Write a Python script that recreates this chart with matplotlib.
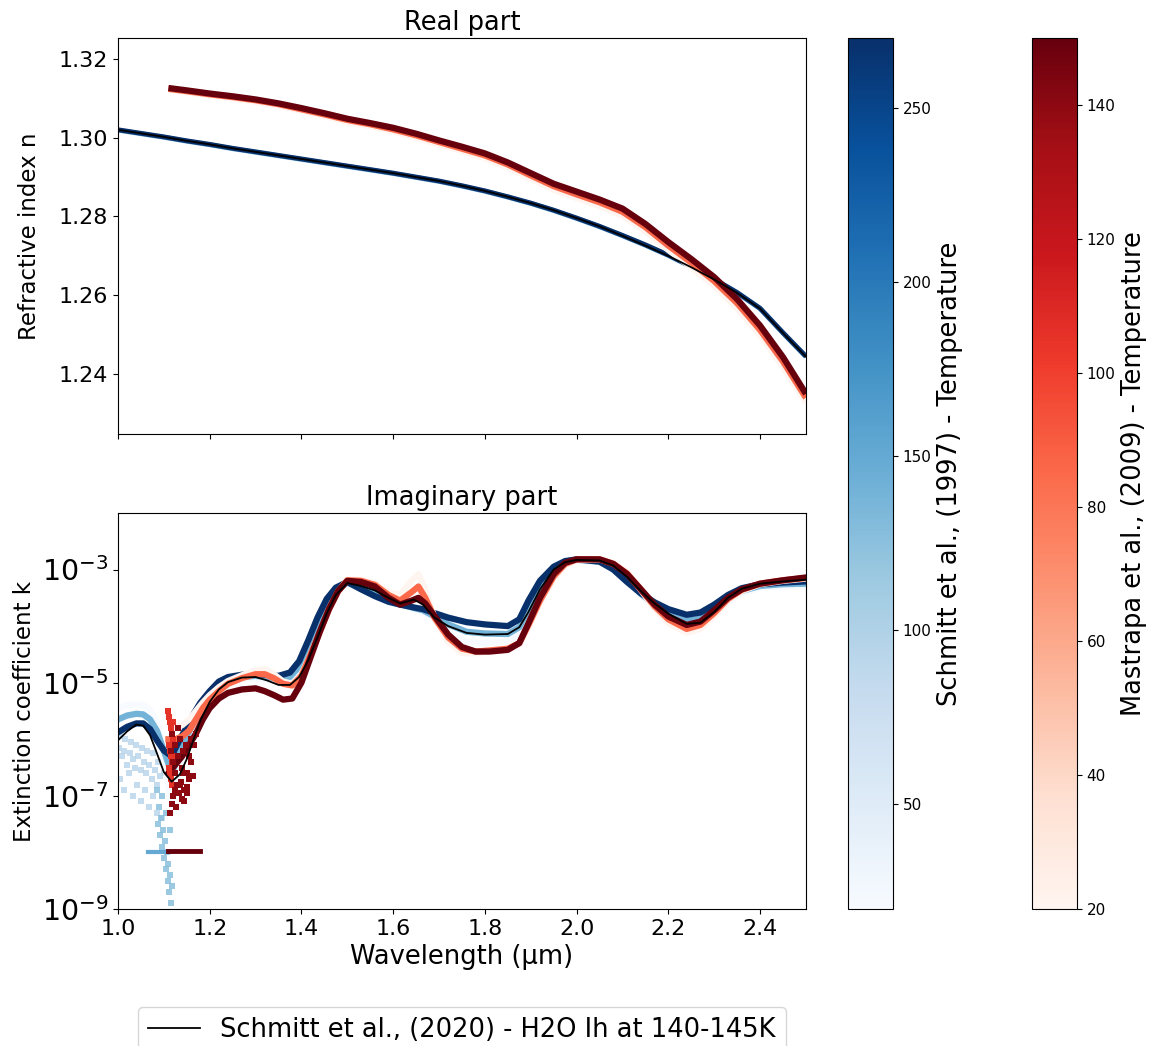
import numpy as np
import matplotlib
matplotlib.use('Agg')
import matplotlib.pyplot as plt
from matplotlib import cm
from matplotlib.colors import Normalize
from matplotlib.ticker import NullLocator

# ---- Schmitt et al. (1997) ----
temps_s97 = [20, 140, 270]  # K

lam_n_s97 = [1.00, 1.05, 1.10, 1.15, 1.20, 1.25, 1.30, 1.35, 1.40, 1.45, 1.50, 1.55, 1.60, 1.65, 1.70, 1.75,
             1.80, 1.85, 1.90, 1.95, 2.00, 2.05, 2.10, 2.15, 2.20, 2.25, 2.30, 2.35, 2.40, 2.45, 2.50]
n_s97_20 = [1.3018, 1.3009, 1.3000, 1.2990, 1.2981, 1.2971, 1.2962, 1.2953, 1.2944, 1.2935, 1.2926, 1.2917, 1.2908, 1.2898,
            1.2888, 1.2876, 1.2863, 1.2848, 1.2832, 1.2814, 1.2794, 1.2773, 1.2750, 1.2726, 1.2700, 1.2671, 1.2639,
            1.2605, 1.2565, 1.2503, 1.2443]
n_s97_140 = [1.3019, 1.3010, 1.3001, 1.2991, 1.2982, 1.2972, 1.2963, 1.2954, 1.2945, 1.2936, 1.2927, 1.2918, 1.2909, 1.2899,
             1.2889, 1.2877, 1.2864, 1.2849, 1.2833, 1.2815, 1.2795, 1.2774, 1.2751, 1.2727, 1.2701, 1.2672, 1.2640,
             1.2606, 1.2566, 1.2504, 1.2444]
n_s97_270 = [1.3020, 1.3011, 1.3002, 1.2992, 1.2983, 1.2973, 1.2964, 1.2955, 1.2946, 1.2937, 1.2928, 1.2919, 1.2910, 1.2900,
             1.2890, 1.2878, 1.2865, 1.2850, 1.2834, 1.2816, 1.2796, 1.2775, 1.2752, 1.2728, 1.2702, 1.2673, 1.2641,
             1.2607, 1.2567, 1.2505, 1.2445]

lam_k_s97 = [1.000, 1.020, 1.040, 1.055, 1.070, 1.085, 1.100, 1.117, 1.135, 1.150, 1.165, 1.180, 1.200, 1.220, 1.240,
             1.270, 1.300, 1.325, 1.350, 1.375, 1.395, 1.415, 1.435, 1.455, 1.475, 1.500, 1.530, 1.560, 1.590, 1.615,
             1.645, 1.665, 1.690, 1.720, 1.760, 1.800, 1.850, 1.875, 1.895, 1.920, 1.950, 1.975, 2.000, 2.050, 2.080,
             2.110, 2.140, 2.170, 2.200, 2.240, 2.270, 2.300, 2.330, 2.360, 2.400, 2.450, 2.500]
logk_s97_20 = [-5.45, -5.40, -5.38, -5.40, -5.48, -5.70, -6.30, -7.20, -6.50, -6.15, -5.85, -5.55, -5.30, -5.12, -5.00,
               -4.94, -4.92, -4.95, -4.98, -4.98, -4.82, -4.50, -4.08, -3.70, -3.43, -3.25, -3.32, -3.40, -3.52, -3.60,
               -3.70, -3.75, -3.90, -4.10, -4.28, -4.30, -4.28, -4.15, -3.85, -3.40, -3.02, -2.88, -2.84, -2.87, -2.98,
               -3.18, -3.45, -3.66, -3.85, -4.00, -3.98, -3.82, -3.58, -3.43, -3.32, -3.30, -3.29]
logk_s97_140 = [-5.65, -5.58, -5.55, -5.56, -5.65, -5.85, -6.20, -6.60, -6.25, -5.95, -5.70, -5.45, -5.22, -5.05, -4.96,
                -4.90, -4.88, -4.90, -4.93, -4.90, -4.72, -4.38, -3.97, -3.62, -3.38, -3.23, -3.33, -3.44, -3.55, -3.61,
                -3.68, -3.72, -3.83, -3.97, -4.10, -4.13, -4.14, -4.02, -3.70, -3.30, -2.98, -2.86, -2.83, -2.86, -2.99,
                -3.20, -3.43, -3.62, -3.78, -3.90, -3.87, -3.72, -3.52, -3.38, -3.29, -3.26, -3.25]
logk_s97_270 = [-5.88, -5.78, -5.72, -5.72, -5.82, -6.02, -6.20, -6.30, -6.00, -5.78, -5.55, -5.35, -5.15, -4.98, -4.90,
                -4.86, -4.85, -4.86, -4.88, -4.82, -4.62, -4.25, -3.85, -3.52, -3.32, -3.22, -3.35, -3.47, -3.57, -3.62,
                -3.67, -3.70, -3.77, -3.85, -3.93, -3.97, -4.00, -3.88, -3.55, -3.20, -2.95, -2.85, -2.82, -2.86, -3.00,
                -3.22, -3.42, -3.58, -3.70, -3.80, -3.76, -3.62, -3.45, -3.33, -3.26, -3.23, -3.21]

# scattered low-k points below the 1.0-1.12 um band (light, ~100 K)
lam_pale_s97 = [1.002, 1.008, 1.014, 1.020, 1.026, 1.032, 1.038, 1.044, 1.050, 1.056, 1.062, 1.068, 1.074, 1.080,
                1.086, 1.092, 1.005, 1.014, 1.023, 1.032, 1.041, 1.050, 1.059, 1.068, 1.077, 1.086, 1.095,
                1.004, 1.016, 1.028, 1.040, 1.052, 1.064, 1.076, 1.088, 1.100]
logk_pale_s97 = [-6.15, -6.30, -6.20, -6.45, -6.25, -6.35, -6.50, -6.30, -6.55, -6.40, -6.60, -6.45, -6.70, -6.55,
                 -6.80, -6.65, -6.70, -6.90, -6.60, -7.00, -6.80, -7.10, -6.90, -7.20, -7.00, -7.30, -7.40,
                 -5.95, -6.00, -6.05, -6.10, -6.15, -6.20, -6.25, -6.40, -6.60]
# deep column around 1.09-1.12 um (~120 K)
lam_deep_s97 = [1.088, 1.092, 1.096, 1.100, 1.104, 1.108, 1.112, 1.116, 1.090, 1.094, 1.098, 1.102, 1.106, 1.110,
                1.114, 1.118, 1.085, 1.095, 1.105, 1.113]
logk_deep_s97 = [-7.5, -7.7, -7.9, -8.1, -8.3, -8.5, -8.7, -8.9, -7.2, -7.4, -7.6, -7.8, -8.0, -8.2,
                 -8.4, -8.6, -6.9, -7.0, -7.3, -7.6]
lam_floor_s97 = [1.065, 1.112]
logk_floor_s97 = [-8.0, -8.0]

# ---- Mastrapa et al. (2009) ----
temps_m09 = [20, 85, 150]  # K

lam_n_m09 = [1.11, 1.15, 1.20, 1.25, 1.30, 1.35, 1.40, 1.45, 1.50, 1.55, 1.60, 1.65, 1.70, 1.75, 1.80, 1.85, 1.90,
             1.95, 2.00, 2.05, 2.10, 2.15, 2.20, 2.25, 2.30, 2.35, 2.40, 2.45, 2.50]
n_m09_20 = [1.3121, 1.3115, 1.3107, 1.3100, 1.3091, 1.3081, 1.3068, 1.3055, 1.3040, 1.3029, 1.3016, 1.3000, 1.2983,
            1.2966, 1.2948, 1.2924, 1.2896, 1.2868, 1.2847, 1.2826, 1.2802, 1.2762, 1.2715, 1.2671, 1.2624, 1.2567,
            1.2499, 1.2418, 1.2328]
n_m09_85 = [1.3124, 1.3118, 1.3110, 1.3103, 1.3095, 1.3085, 1.3072, 1.3059, 1.3045, 1.3034, 1.3021, 1.3006, 1.2989,
            1.2972, 1.2955, 1.2932, 1.2904, 1.2877, 1.2856, 1.2836, 1.2812, 1.2773, 1.2726, 1.2683, 1.2636, 1.2580,
            1.2512, 1.2432, 1.2340]
n_m09_150 = [1.3126, 1.3120, 1.3112, 1.3105, 1.3097, 1.3087, 1.3075, 1.3062, 1.3048, 1.3037, 1.3025, 1.3010, 1.2993,
             1.2977, 1.2960, 1.2937, 1.2910, 1.2883, 1.2863, 1.2843, 1.2820, 1.2781, 1.2735, 1.2692, 1.2646, 1.2590,
             1.2523, 1.2443, 1.2350]

lam_k_m09 = [1.110, 1.125, 1.140, 1.155, 1.170, 1.185, 1.200, 1.220, 1.240, 1.270, 1.300, 1.320, 1.340, 1.360, 1.380,
             1.400, 1.420, 1.440, 1.460, 1.480, 1.500, 1.530, 1.560, 1.590, 1.615, 1.640, 1.655, 1.670, 1.690, 1.720,
             1.750, 1.780, 1.810, 1.850, 1.875, 1.895, 1.920, 1.950, 1.975, 2.000, 2.050, 2.080, 2.110, 2.140, 2.170,
             2.200, 2.240, 2.270, 2.300, 2.330, 2.360, 2.400, 2.450, 2.500]
logk_m09_20 = [-5.60, -5.75, -5.75, -5.65, -5.50, -5.35, -5.22, -5.08, -4.97, -4.87, -4.78, -4.76, -4.85, -4.98, -5.02,
               -4.85, -4.50, -4.12, -3.72, -3.40, -3.18, -3.18, -3.24, -3.40, -3.45, -3.20, -3.08, -3.35, -3.85, -4.28,
               -4.48, -4.48, -4.45, -4.40, -4.32, -4.02, -3.60, -3.17, -2.93, -2.84, -2.82, -2.88, -3.05, -3.36, -3.70,
               -3.95, -4.12, -4.05, -3.82, -3.55, -3.38, -3.26, -3.20, -3.16]
logk_m09_85 = [-6.00, -6.00, -5.95, -5.85, -5.65, -5.45, -5.30, -5.15, -5.02, -4.92, -4.85, -4.85, -4.92, -5.02, -5.05,
               -4.88, -4.50, -4.10, -3.70, -3.38, -3.19, -3.20, -3.27, -3.45, -3.55, -3.40, -3.30, -3.50, -3.85, -4.20,
               -4.40, -4.45, -4.43, -4.40, -4.30, -3.98, -3.55, -3.12, -2.90, -2.82, -2.82, -2.90, -3.07, -3.35, -3.65,
               -3.88, -4.05, -3.98, -3.77, -3.52, -3.36, -3.25, -3.19, -3.15]
logk_m09_150 = [-6.60, -6.45, -6.30, -6.10, -5.90, -5.65, -5.45, -5.28, -5.18, -5.12, -5.10, -5.15, -5.22, -5.30, -5.28,
                -5.00, -4.55, -4.10, -3.70, -3.38, -3.20, -3.22, -3.30, -3.50, -3.62, -3.55, -3.50, -3.60, -3.82, -4.15,
                -4.37, -4.45, -4.45, -4.42, -4.30, -3.95, -3.50, -3.08, -2.88, -2.82, -2.82, -2.90, -3.08, -3.35, -3.62,
                -3.83, -3.98, -3.92, -3.72, -3.50, -3.35, -3.25, -3.19, -3.14]

# scattered points between 1.11 and 1.17 um: bright strip (~105 K) and dark cloud (~140 K)
lam_strip_m09 = [1.110, 1.112, 1.114, 1.116, 1.118, 1.120, 1.112, 1.114, 1.116, 1.118, 1.111, 1.113, 1.115, 1.117,
                 1.119, 1.121, 1.123]
logk_strip_m09 = [-5.50, -5.60, -5.70, -5.80, -5.90, -6.00, -6.10, -6.20, -6.30, -6.40, -6.50, -6.60, -6.70, -6.80,
                  -6.30, -5.70, -6.10]
lam_dark_m09 = [1.115, 1.120, 1.125, 1.130, 1.135, 1.140, 1.145, 1.150, 1.155, 1.160, 1.165, 1.170, 1.118, 1.124,
                1.130, 1.136, 1.142, 1.148, 1.154, 1.160, 1.113, 1.117, 1.121, 1.125, 1.129, 1.133, 1.137, 1.141,
                1.145, 1.150, 1.127, 1.139, 1.151, 1.163]
logk_dark_m09 = [-6.20, -6.40, -6.60, -6.30, -6.80, -6.50, -6.90, -6.60, -6.70, -6.40, -6.10, -5.90, -5.90, -6.10,
                 -5.80, -6.00, -6.20, -6.10, -6.30, -6.00, -7.30, -7.15, -7.00, -6.90, -6.80, -6.95, -6.75, -6.60,
                 -7.10, -6.85, -7.20, -7.05, -6.95, -6.65]
lam_floor_m09 = [1.11, 1.178]
logk_floor_m09 = [-7.97, -7.97]

# ---- Schmitt et al. (2020), H2O Ih 140-145 K ----
lam_n_2020 = lam_n_s97
n_2020 = [1.3020, 1.3011, 1.3002, 1.2992, 1.2983, 1.2973, 1.2964, 1.2955, 1.2946, 1.2937, 1.2928, 1.2919, 1.2910, 1.2900,
          1.2890, 1.2878, 1.2865, 1.2850, 1.2834, 1.2816, 1.2796, 1.2775, 1.2751, 1.2726, 1.2700, 1.2671, 1.2640,
          1.2606, 1.2566, 1.2504, 1.2444]
lam_k_2020 = lam_k_s97
logk_2020 = [-6.02, -5.86, -5.74, -5.76, -5.93, -6.25, -6.58, -6.75, -6.62, -6.35, -6.00, -5.66, -5.34, -5.12, -4.99,
             -4.91, -4.90, -4.96, -5.04, -5.04, -4.90, -4.60, -4.20, -3.78, -3.45, -3.24, -3.29, -3.37, -3.50, -3.60,
             -3.53, -3.62, -3.85, -4.00, -4.12, -4.15, -4.14, -4.02, -3.75, -3.35, -3.00, -2.87, -2.83, -2.84, -2.93,
             -3.13, -3.38, -3.60, -3.78, -3.96, -3.94, -3.75, -3.50, -3.34, -3.25, -3.21, -3.18]

norm_s97 = Normalize(vmin=20, vmax=270)
norm_m09 = Normalize(vmin=20, vmax=150)
cmap_s97 = plt.get_cmap('Blues')
cmap_m09 = plt.get_cmap('Reds')

fig = plt.figure(figsize=(11.51, 10.46), dpi=100)
ax1 = fig.add_axes([0.1025, 0.5851, 0.5977, 0.3786])
ax2 = fig.add_axes([0.1025, 0.1310, 0.5977, 0.3786], sharex=ax1)
cax1 = fig.add_axes([0.7368, 0.1310, 0.0391, 0.8327])
cax2 = fig.add_axes([0.8966, 0.1310, 0.0391, 0.8327])

# real part
for T, n in zip(temps_s97, [n_s97_20, n_s97_140, n_s97_270]):
    ax1.plot(lam_n_s97, n, color=cmap_s97(norm_s97(T)), lw=3.5, solid_capstyle='butt')
for T, n in zip(temps_m09, [n_m09_20, n_m09_85, n_m09_150]):
    ax1.plot(lam_n_m09, n, color=cmap_m09(norm_m09(T)), lw=4.5, solid_capstyle='butt')
ax1.plot(lam_n_2020, n_2020, color='black', lw=1.3)

ax1.set_title('Real part', fontsize=18.5)
ax1.set_ylabel('Refractive index n', fontsize=16.5)
ax1.yaxis.set_label_coords(-0.112, 0.5)
ax1.set_ylim(1.2248, 1.3253)
ax1.set_yticks([1.24, 1.26, 1.28, 1.30, 1.32])
ax1.tick_params(labelsize=16)
ax1.tick_params(axis='x', labelbottom=False)

# imaginary part
ax2.scatter(lam_pale_s97, 10 ** np.array(logk_pale_s97), s=24, marker='s', lw=0,
            color=cmap_s97(norm_s97(95)), alpha=0.8)
for T, lk in zip(temps_s97, [logk_s97_20, logk_s97_140, logk_s97_270]):
    ax2.plot(lam_k_s97, 10 ** np.array(lk), color=cmap_s97(norm_s97(T)), lw=4.5)
ax2.scatter(lam_deep_s97, 10 ** np.array(logk_deep_s97), s=16, marker='s', lw=0,
            color=cmap_s97(norm_s97(130)), alpha=0.8)
ax2.plot(lam_floor_s97, 10 ** np.array(logk_floor_s97), color=cmap_s97(norm_s97(150)), lw=3)

for T, lk in zip(temps_m09, [logk_m09_20, logk_m09_85, logk_m09_150]):
    ax2.plot(lam_k_m09, 10 ** np.array(lk), color=cmap_m09(norm_m09(T)), lw=4.5)
ax2.scatter(lam_strip_m09, 10 ** np.array(logk_strip_m09), s=18, marker='s', lw=0,
            color=cmap_m09(norm_m09(105)), zorder=2.4)
ax2.scatter(lam_dark_m09, 10 ** np.array(logk_dark_m09), s=16, marker='s', lw=0,
            color=cmap_m09(norm_m09(140)), zorder=2.5)
ax2.plot(lam_floor_m09, 10 ** np.array(logk_floor_m09), color=cmap_m09(norm_m09(150)), lw=3.5)

ax2.plot(lam_k_2020, 10 ** np.array(logk_2020), color='black', lw=1.3, zorder=3,
         label='Schmitt et al., (2020) - H2O Ih at 140-145K')

ax2.set_yscale('log')
ax2.set_ylim(1e-9, 1e-2)
ax2.set_yticks([1e-9, 1e-7, 1e-5, 1e-3])
ax2.yaxis.set_minor_locator(NullLocator())
ax2.set_xlim(1.0, 2.5)
ax2.set_xticks([1.0, 1.2, 1.4, 1.6, 1.8, 2.0, 2.2, 2.4])
ax2.set_title('Imaginary part', fontsize=18.5)
ax2.set_xlabel('Wavelength (µm)', fontsize=18.5)
ax2.set_ylabel('Extinction coefficient k', fontsize=16.5)
ax2.yaxis.set_label_coords(-0.119, 0.5)
ax2.tick_params(axis='x', labelsize=16)
ax2.tick_params(axis='y', labelsize=20.5)
ax2.legend(loc='upper center', bbox_to_anchor=(0.5, -0.215), fontsize=18.5)

# colorbars
cb1 = fig.colorbar(cm.ScalarMappable(norm=norm_s97, cmap=cmap_s97), cax=cax1)
cb1.set_ticks([50, 100, 150, 200, 250])
cb1.set_label('Schmitt et al., (1997) - Temperature', fontsize=18.5)
cb1.ax.tick_params(labelsize=11)

cb2 = fig.colorbar(cm.ScalarMappable(norm=norm_m09, cmap=cmap_m09), cax=cax2)
cb2.set_ticks([20, 40, 60, 80, 100, 120, 140])
cb2.set_label('Mastrapa et al., (2009) - Temperature', fontsize=18.5)
cb2.ax.tick_params(labelsize=11)

plt.savefig('out.png', dpi=100)
